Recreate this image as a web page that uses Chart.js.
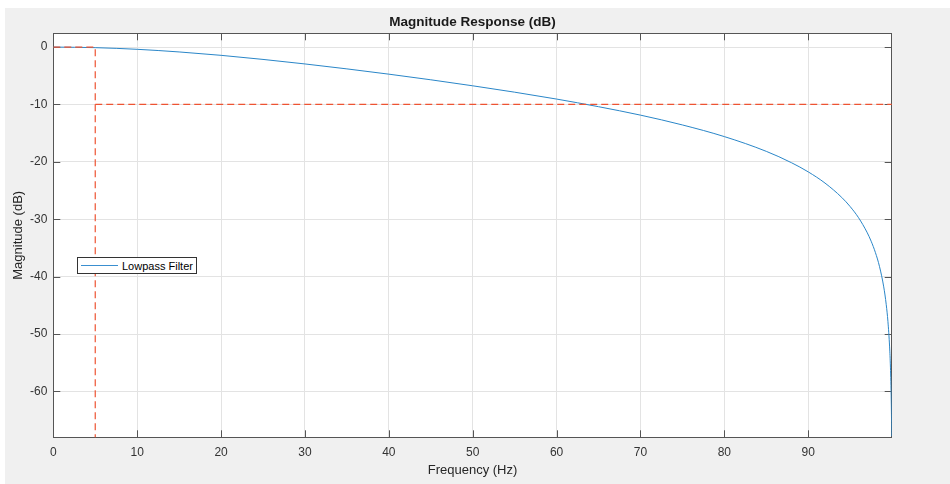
<!DOCTYPE html>
<html>
<head>
<meta charset="utf-8">
<title>Magnitude Response (dB)</title>
<script src="https://cdn.jsdelivr.net/npm/chart.js@4.4.1/dist/chart.umd.min.js"></script>
<style>
    html, body { margin: 0; padding: 0; background: #fff; }
    body { width: 950px; height: 484px; position: relative; overflow: hidden; }
    #figure {
        position: absolute; left: 5px; top: 8px;
        width: 945px; height: 476px;
        background: #f0f0f0;
    }
    #legend {
        position: absolute; left: 77px; top: 257px;
        width: 118px; height: 15px;
        background: #fff; border: 1px solid #333;
        font: 11px 'Liberation Sans', Arial, sans-serif; color: #000;
        display: flex; align-items: center;
    }
    #legend .swatch { width: 37px; height: 1px; background: #3a8fd0; margin: 0 4px 0 3px; }
</style>
</head>
<body>
<div id="figure"><canvas id="magChart"></canvas></div>
<div id="legend"><span class="swatch"></span><span>Lowpass Filter</span></div>

<script>
// ============================================
// DATA
// ============================================
const freqHz = [0, 5, 10, 15, 20, 25, 30, 35, 40, 45, 50, 55, 60, 65, 70, 75, 80, 85,
    88, 90, 92, 94, 95, 96, 97, 97.5, 98, 98.5, 99, 99.3, 99.5, 99.7, 99.8, 99.9, 99.95];
const magDb = [0, -0.1, -0.39, -0.85, -1.44, -2.15, -2.94, -3.8, -4.72, -5.7, -6.75, -7.86, -9.06, -10.39, -11.86, -13.57, -15.6, -18.17,
    -20.15, -21.75, -23.7, -26.21, -27.8, -29.74, -32.25, -33.83, -35.77, -38.27, -41.79, -44.89, -47.81, -52.25, -55.77, -61.79, -67.81];

// red dashed guides: passband edge (5 Hz) and -10 dB level
const edgeX = [0, 5, 5];
const edgeY = [0, 0, -70];
const levelX = [5, 100];
const levelY = [-10, -10];

// tick labels
const xTicks = [0, 10, 20, 30, 40, 50, 60, 70, 80, 90];
const yTicks = [-60, -50, -40, -30, -20, -10, 0];
const xRange = [0, 99.95];
const yRange = [-68, 2.4];

const FONT = "'Liberation Sans', Arial, Helvetica, sans-serif";

document.addEventListener('DOMContentLoaded', () => {
    const toPoints = (xs, ys) => xs.map((x, i) => ({ x: x, y: ys[i] }));
    const setTicks = (values) => (scale) => { scale.ticks = values.map(v => ({ value: v })); };

    // 1. White axes background, box and inward ticks (MATLAB look)
    const axesBox = {
        id: 'axesBox',
        beforeDraw(chart) {
            const { ctx, chartArea: a } = chart;
            ctx.save();
            ctx.fillStyle = '#fff';
            ctx.fillRect(a.left, a.top, a.right - a.left, a.bottom - a.top);
            ctx.restore();
        },
        beforeDatasetsDraw(chart) {
            const { ctx, chartArea: a, scales } = chart;
            const tick = 7;
            ctx.save();
            ctx.strokeStyle = '#555';
            ctx.lineWidth = 1;
            ctx.beginPath();
            scales.x.ticks.forEach(t => {
                const px = Math.round(scales.x.getPixelForValue(t.value)) + 0.5;
                ctx.moveTo(px, a.bottom); ctx.lineTo(px, a.bottom - tick);
                ctx.moveTo(px, a.top); ctx.lineTo(px, a.top + tick);
            });
            scales.y.ticks.forEach(t => {
                const py = Math.round(scales.y.getPixelForValue(t.value)) + 0.5;
                ctx.moveTo(a.left, py); ctx.lineTo(a.left + tick, py);
                ctx.moveTo(a.right, py); ctx.lineTo(a.right - tick, py);
            });
            ctx.stroke();
            ctx.strokeRect(Math.round(a.left) + 0.5, Math.round(a.top) + 0.5,
                Math.round(a.right - a.left), Math.round(a.bottom - a.top));
            ctx.restore();
        }
    };

    // 2. Chart
    const ctx = document.getElementById('magChart').getContext('2d');
    new Chart(ctx, {
        type: 'line',
        data: {
            datasets: [
                {
                    label: 'edge',
                    data: toPoints(edgeX, edgeY),
                    borderColor: '#ee5332',
                    borderWidth: 1.2,
                    borderDash: [7, 4],
                    pointRadius: 0
                },
                {
                    label: 'level',
                    data: toPoints(levelX, levelY),
                    borderColor: '#ee5332',
                    borderWidth: 1.2,
                    borderDash: [7, 4],
                    pointRadius: 0
                },
                {
                    label: 'Lowpass Filter',
                    data: toPoints(freqHz, magDb),
                    borderColor: '#2a86c8',
                    borderWidth: 1,
                    cubicInterpolationMode: 'monotone',
                    pointRadius: 0
                }
            ]
        },
        options: {
            responsive: true,
            maintainAspectRatio: false,
            animation: false,
            layout: { padding: { left: 0, top: 0, right: 58.3, bottom: 0 } },
            plugins: {
                legend: { display: false },
                tooltip: { enabled: false },
                title: {
                    display: true,
                    text: 'Magnitude Response (dB)',
                    fullSize: false,
                    color: '#1a1a1a',
                    font: { family: FONT, size: 13.5, weight: 'bold' },
                    padding: { top: 6, bottom: 3.1 }
                }
            },
            scales: {
                x: {
                    type: 'linear',
                    min: xRange[0],
                    max: xRange[1],
                    afterBuildTicks: setTicks(xTicks),
                    afterFit: (scale) => { scale.height = 46.7; },
                    border: { display: false },
                    grid: { color: '#e3e3e3', drawTicks: false },
                    ticks: {
                        padding: 8,
                        color: '#333',
                        font: { family: FONT, size: 12 },
                        maxRotation: 0,
                        callback: (v) => String(v)
                    },
                    title: {
                        display: true,
                        text: 'Frequency (Hz)',
                        color: '#262626',
                        font: { family: FONT, size: 13 },
                        padding: { top: 0, bottom: 6 }
                    }
                },
                y: {
                    type: 'linear',
                    min: yRange[0],
                    max: yRange[1],
                    afterBuildTicks: setTicks(yTicks),
                    afterFit: (scale) => { scale.width = 48.3; },
                    border: { display: false },
                    grid: { color: '#e3e3e3', drawTicks: false },
                    ticks: {
                        padding: 6,
                        color: '#333',
                        font: { family: FONT, size: 12 },
                        callback: (v) => String(v)
                    },
                    title: {
                        display: true,
                        text: 'Magnitude (dB)',
                        color: '#262626',
                        font: { family: FONT, size: 13 },
                        padding: { top: 6, bottom: 0 }
                    }
                }
            }
        },
        plugins: [axesBox]
    });
});
</script>
</body>
</html>
